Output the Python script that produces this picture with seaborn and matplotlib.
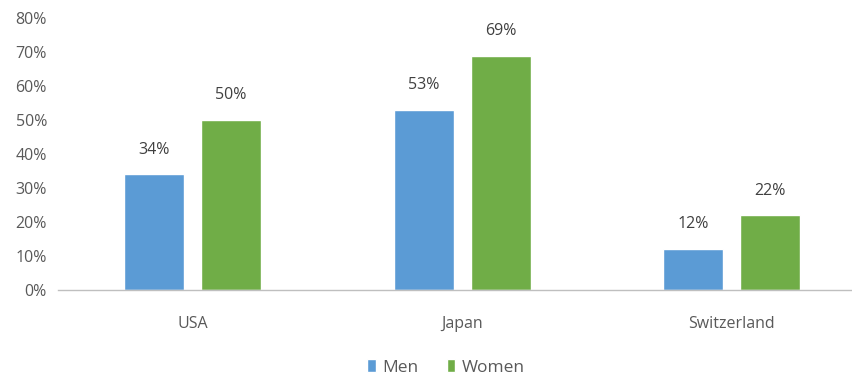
import matplotlib
matplotlib.use("Agg")
import matplotlib.pyplot as plt
import seaborn as sns
import pandas as pd
from matplotlib.ticker import FuncFormatter
from matplotlib.patches import Patch

countries = ["USA", "Japan", "Switzerland"]
men = [34, 53, 12]
women = [50, 69, 22]
series = ["Men", "Women"]
colors = ["#5B9BD5", "#70AD47"]

df = pd.DataFrame({
    "country": countries * 2,
    "value": men + women,
    "sex": ["Men"] * 3 + ["Women"] * 3,
})

sns.set_style("white")
plt.rcParams["font.family"] = ["Open Sans", "DejaVu Sans"]

fig = plt.figure(figsize=(8.53, 3.78), dpi=100)
ax = fig.add_axes([0.068, 0.233, 0.932, 0.719])

sns.barplot(data=df, x="country", y="value", hue="sex", order=countries,
            hue_order=series, palette=colors, width=0.57, gap=0.22,
            saturation=1, ax=ax, legend=False)

for cont in ax.containers:
    for bar in cont:
        h = bar.get_height()
        ax.annotate(f"{h:.0f}%", (bar.get_x() + bar.get_width() / 2, h),
                    xytext=(0, 12), textcoords="offset points",
                    ha="center", va="bottom", fontsize=11.5, color="#404040")

ax.set_ylim(0, 80)
ax.set_xlim(-0.5, 2.45)
ax.set_yticks(range(0, 81, 10))
ax.yaxis.set_major_formatter(FuncFormatter(lambda v, p: f"{v:.0f}%"))
ax.set_xlabel("")
ax.set_ylabel("")
ax.tick_params(axis="both", length=0, labelsize=11.5, colors="#595959")
ax.tick_params(axis="x", pad=19)
ax.tick_params(axis="y", pad=8)
for s in ["top", "right", "left"]:
    ax.spines[s].set_visible(False)
ax.spines["bottom"].set_color("#BFBFBF")
ax.spines["bottom"].set_linewidth(1)

handles = [Patch(facecolor=c, label=s) for c, s in zip(colors, series)]
fig.legend(handles=handles, loc="lower center", bbox_to_anchor=(0.523, -0.035),
           ncol=2, frameon=False, fontsize=12.5, handlelength=0.5,
           handleheight=0.8, handletextpad=0.4, columnspacing=1.6,
           labelcolor="#595959")

fig.savefig("out.png", dpi=100)
